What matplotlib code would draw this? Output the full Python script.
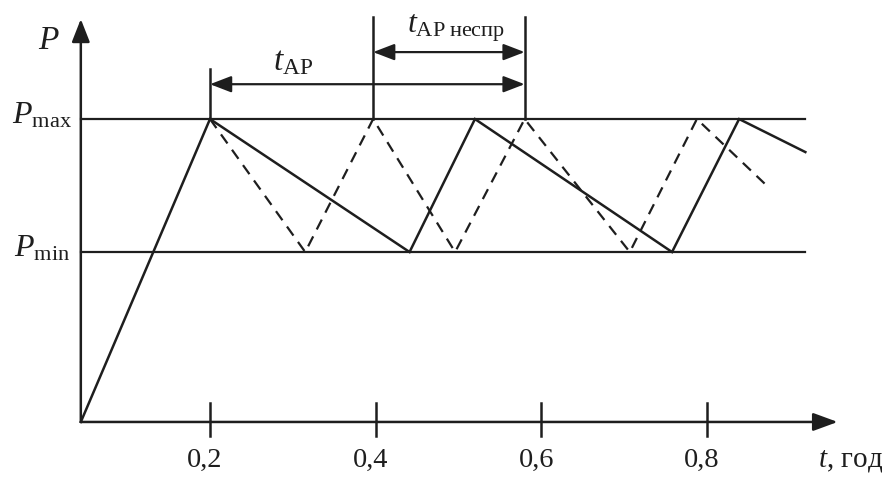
import matplotlib
matplotlib.use('Agg')
import matplotlib.pyplot as plt

plt.rcParams['font.family'] = ['Liberation Serif', 'DejaVu Serif']
plt.rcParams['mathtext.fontset'] = 'custom'
plt.rcParams['mathtext.rm'] = 'Liberation Serif'
plt.rcParams['mathtext.it'] = 'Liberation Serif:italic'

# levels (P_max = 1)
p_max = 1.0
p_min = 0.561

# solid: working cycle
solid_t = [0.044, 0.200, 0.441, 0.520, 0.758, 0.839, 0.919]
solid_p = [0.0, p_max, p_min, p_max, p_min, p_max, 0.891]

# dashed: faulty cycle
dashed_t = [0.200, 0.315, 0.397, 0.496, 0.580, 0.707, 0.788, 0.874]
dashed_p = [p_max, p_min, p_max, p_min, p_max, p_min, p_max, 0.776]

ticks = [0.2, 0.4, 0.6, 0.8]
tick_labels = ['0,2', '0,4', '0,6', '0,8']

# interval markers
t_ap = (0.200, 0.580)
t_ap_nespr = (0.397, 0.580)

ink = '#1e1e1e'
t0 = 0.044
t_end = 0.958
p_top = 1.33
lev_end = 0.919

fig = plt.figure(figsize=(8.87, 4.78), dpi=100)
ax = fig.add_axes([0, 0, 1, 1])
ax.set_xlim(-0.0536, 1.0176)
ax.set_ylim(-0.185, 1.393)
ax.axis('off')

# axes with arrows
ax.annotate('', xy=(t_end, 0), xytext=(t0, 0),
            arrowprops=dict(arrowstyle='-|>,head_length=1.5,head_width=0.55',
                            color=ink, lw=1.8, shrinkA=0, shrinkB=0))
ax.annotate('', xy=(t0, p_top), xytext=(t0, 0),
            arrowprops=dict(arrowstyle='-|>,head_length=1.4,head_width=0.55',
                            color=ink, lw=1.8, shrinkA=0, shrinkB=0))

# levels
ax.plot([t0, lev_end], [p_max, p_max], color=ink, lw=1.6)
ax.plot([t0, lev_end], [p_min, p_min], color=ink, lw=1.6)

# curves
ax.plot(solid_t, solid_p, color=ink, lw=1.8, solid_joinstyle='miter')
ax.plot(dashed_t, dashed_p, color=ink, lw=1.6, dashes=(5, 3.5))

# x ticks
for t, lab in zip(ticks, tick_labels):
    ax.plot([t, t], [0.063, -0.045], color=ink, lw=1.8)
    ax.text(t - 0.006, -0.127, lab, ha='center', va='center', fontsize=20.5, color=ink)

ax.text(1.0128, -0.13, r'$t$, год', ha='right', va='center', fontsize=21, color=ink)

# axis labels
ax.text(0.005, 1.26, r'$P$', ha='center', va='center', fontsize=24, color=ink)
ax.text(-0.003, 1.012, r'$P_{\mathrm{max}}$', ha='center', va='center', fontsize=23, color=ink)
ax.text(-0.003, 0.573, r'$P_{\mathrm{min}}$', ha='center', va='center', fontsize=23, color=ink)

# interval markers and arrows
ax.plot([t_ap[0], t_ap[0]], [p_max, 1.166], color=ink, lw=1.8)
ax.plot([t_ap_nespr[0], t_ap_nespr[0]], [p_max, 1.337], color=ink, lw=1.8)
ax.plot([t_ap[1], t_ap[1]], [p_max, 1.337], color=ink, lw=1.8)

ax.annotate('', xy=(t_ap[1], 1.115), xytext=(t_ap[0], 1.115),
            arrowprops=dict(arrowstyle='<|-|>,head_length=1.3,head_width=0.5',
                            color=ink, lw=1.6, shrinkA=0, shrinkB=0))
ax.annotate('', xy=(t_ap_nespr[1], 1.221), xytext=(t_ap_nespr[0], 1.221),
            arrowprops=dict(arrowstyle='<|-|>,head_length=1.3,head_width=0.5',
                            color=ink, lw=1.6, shrinkA=0, shrinkB=0))

ax.text(0.300, 1.19, r'$t_{\mathrm{AP}}$', ha='center', va='center', fontsize=24, color=ink)
ax.text(0.4375, 1.30, r'$t_{\mathrm{AP\;неспр}}$', ha='left', va='center', fontsize=23, color=ink)

fig.savefig('out.png', dpi=100, facecolor='white')
